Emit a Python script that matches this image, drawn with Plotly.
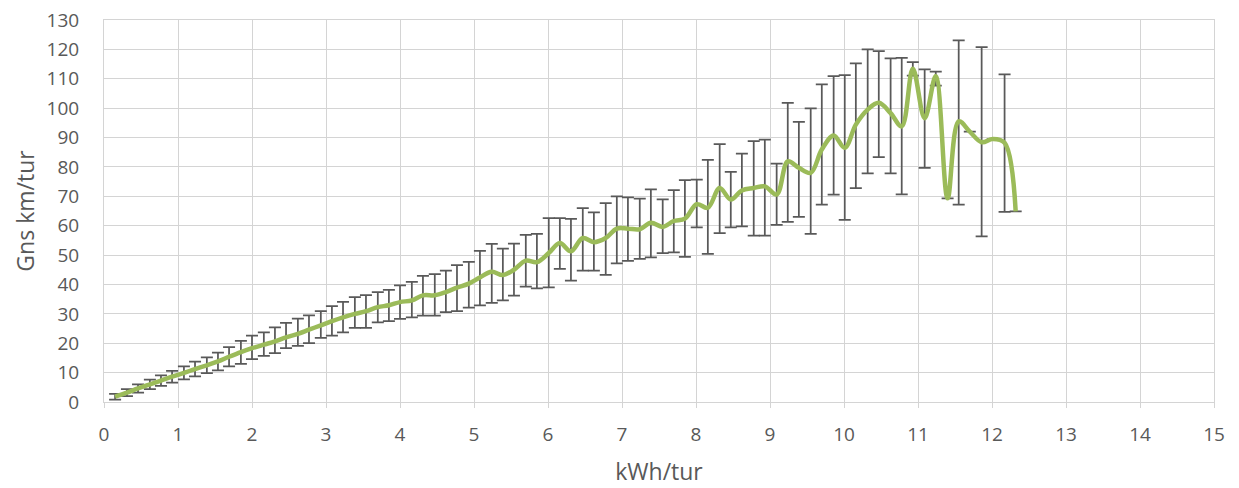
import plotly.graph_objects as go

# x: kWh/tur bins
kwh = [0.15, 0.31, 0.46, 0.62, 0.77, 0.92, 1.08, 1.23, 1.39, 1.54,
       1.69, 1.85, 2.00, 2.16, 2.31, 2.46, 2.62, 2.77, 2.93, 3.08,
       3.23, 3.39, 3.54, 3.70, 3.85, 4.00, 4.16, 4.31, 4.47, 4.62,
       4.77, 4.93, 5.08, 5.24, 5.39, 5.54, 5.70, 5.85, 6.01, 6.16,
       6.31, 6.47, 6.62, 6.78, 6.93, 7.08, 7.24, 7.39, 7.55, 7.70,
       7.85, 8.01, 8.16, 8.32, 8.47, 8.62, 8.78, 8.93, 9.09, 9.24,
       9.39, 9.55, 9.70, 9.86, 10.01, 10.16, 10.32, 10.47, 10.63, 10.78,
       10.93, 11.09, 11.24, 11.40, 11.55, 11.70, 11.86, 12.01, 12.17, 12.32]

# y: mean Gns km/tur
km = [1.8, 3.2, 4.6, 6.0, 7.3, 8.6, 9.9, 11.2, 12.5, 13.8,
      15.4, 17.0, 18.3, 19.5, 20.6, 22.0, 23.2, 24.6, 26.1, 27.5,
      28.8, 30.0, 30.9, 32.3, 32.9, 34.0, 34.6, 36.3, 36.3, 37.4,
      38.9, 40.3, 42.4, 44.3, 43.2, 45.0, 48.1, 47.6, 50.7, 54.1,
      51.3, 55.8, 54.4, 55.8, 59.0, 59.0, 58.8, 61.0, 59.6, 61.6,
      62.4, 67.3, 66.1, 72.8, 68.9, 72.0, 72.8, 73.4, 70.6, 81.9,
      79.7, 78.0, 85.9, 90.7, 86.5, 94.4, 99.5, 101.8, 98.3, 93.8,
      113.4, 96.6, 110.9, 69.3, 95.5, 92.0, 88.4, 89.5, 88.2, 64.9]

# error bar extents (upper / lower)
err_plus = [1.0, 1.2, 1.4, 1.6, 1.8, 2.0, 2.2, 2.5, 2.7, 3.0,
            3.3, 3.8, 4.3, 4.2, 4.8, 4.9, 5.2, 4.9, 4.8, 5.1,
            5.3, 5.7, 5.5, 5.1, 5.3, 5.7, 6.3, 6.6, 7.2, 7.3,
            7.7, 7.4, 9.0, 9.5, 9.0, 8.9, 8.8, 9.6, 11.9, 8.5,
            11.0, 10.2, 10.1, 11.9, 11.0, 10.6, 10.4, 11.4, 9.4, 10.5,
            13.1, 8.4, 16.3, 15.0, 9.4, 12.5, 16.0, 15.9, 10.5, 19.9,
            15.6, 21.9, 22.2, 20.2, 24.7, 20.8, 20.5, 17.6, 18.6, 23.3,
            2.3, 16.6, 1.5, None, 27.6, None, 32.4, None, 23.3, None]
err_minus = [1.0, 1.2, 1.4, 1.6, 1.8, 2.0, 2.2, 2.5, 2.7, 3.0,
             3.3, 4.0, 3.7, 3.8, 4.0, 3.7, 4.1, 4.6, 4.3, 4.9,
             5.1, 4.8, 5.7, 5.2, 5.4, 5.7, 5.8, 6.9, 6.9, 6.8,
             8.0, 8.2, 9.5, 10.6, 8.6, 8.8, 8.8, 8.9, 11.7, 8.8,
             10.0, 11.1, 9.7, 12.5, 11.8, 11.0, 10.1, 11.8, 8.9, 10.7,
             13.0, 7.9, 15.7, 15.3, 9.5, 12.2, 16.2, 16.8, 10.3, 20.6,
             16.7, 20.8, 18.7, 20.1, 24.5, 21.6, 21.7, 18.5, 20.5, 23.1,
             2.3, 16.9, 3.2, None, 28.3, None, 32.0, None, 23.5, None]

x_ticks = list(range(0, 16))
y_ticks = list(range(0, 131, 10))

FONT = "Open Sans"
GRID = "#d4d4d4"
TXT = "#595959"

fig = go.Figure()
fig.add_trace(go.Scatter(
    x=kwh, y=km, mode="lines",
    line=dict(color="#9bbb59", width=4.5, shape="spline", smoothing=1),
    error_y=dict(type="data", symmetric=False, array=err_plus, arrayminus=err_minus,
                 color="#595959", thickness=1.75, width=6),
    showlegend=False,
))

fig.update_layout(
    width=1231, height=480,
    margin=dict(l=96, r=25, t=12, b=86),
    paper_bgcolor="white", plot_bgcolor="white",
    font=dict(family=FONT, color=TXT, size=19),
    xaxis=dict(
        range=[0, 15], tickvals=x_ticks, ticktext=[str(v) for v in x_ticks],
        showgrid=True, gridcolor=GRID, gridwidth=1,
        showline=True, linecolor=GRID, linewidth=1, mirror=True,
        ticks="outside", ticklen=5, tickcolor=GRID, tickwidth=1,
        tickfont=dict(size=19, color=TXT, family=FONT),
        ticklabelstandoff=10, ticklabeloverflow="allow",
        zeroline=False, automargin=False,
        title=dict(text="kWh/tur", font=dict(size=23, color=TXT, family=FONT), standoff=18),
    ),
    yaxis=dict(
        range=[0, 130], tickvals=y_ticks, ticktext=[str(v) for v in y_ticks],
        showgrid=True, gridcolor=GRID, gridwidth=1,
        showline=True, linecolor=GRID, linewidth=1, mirror=True,
        ticks="", tickfont=dict(size=19, color=TXT, family=FONT),
        ticklabelstandoff=20, ticklabeloverflow="allow",
        zeroline=False, automargin=False,
        title=dict(text="Gns km/tur", font=dict(size=23, color=TXT, family=FONT), standoff=5),
    ),
)

fig.write_html("out.html")
